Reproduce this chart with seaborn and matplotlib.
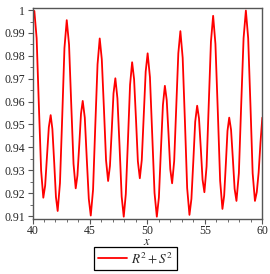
import matplotlib
matplotlib.use("Agg")
import matplotlib.pyplot as plt
from matplotlib.ticker import MultipleLocator, FuncFormatter
import seaborn as sns

# values (extrema plus flank points)
x_vals = [
    40.0, 40.08, 40.16, 40.36, 40.55, 40.75, 40.94,
    41.10, 41.26, 41.42, 41.58, 41.73, 41.89, 42.04, 42.19,
    42.39, 42.59, 42.78, 42.98, 43.18, 43.37, 43.57, 43.76,
    43.91, 44.07, 44.22, 44.37, 44.55, 44.72, 44.90, 45.07,
    45.27, 45.46, 45.66, 45.85, 46.03, 46.22, 46.40, 46.58,
    46.74, 46.90, 47.05, 47.21, 47.39, 47.58, 47.76, 47.94,
    48.12, 48.31, 48.49, 48.67, 48.84, 49.01, 49.17, 49.34,
    49.51, 49.68, 49.85, 50.02, 50.22, 50.42, 50.62, 50.82,
    51.00, 51.17, 51.35, 51.52, 51.68, 51.84, 51.99, 52.15,
    52.33, 52.51, 52.69, 52.87, 53.07, 53.27, 53.46, 53.66,
    53.83, 54.00, 54.16, 54.33, 54.49, 54.65, 54.80, 54.96,
    55.15, 55.34, 55.53, 55.72, 55.92, 56.13, 56.33, 56.53,
    56.68, 56.83, 56.97, 57.12, 57.28, 57.44, 57.59, 57.75,
    57.96, 58.16, 58.37, 58.57, 58.77, 58.97, 59.16, 59.36,
    59.52, 59.68, 59.84, 60.0,
]
rs_vals = [
    0.9978, 0.9991, 0.9996, 0.9877, 0.9588, 0.9299, 0.9180,
    0.9233, 0.9361, 0.9488, 0.9541, 0.9480, 0.9332, 0.9183, 0.9122,
    0.9244, 0.9539, 0.9834, 0.9956, 0.9849, 0.9589, 0.9328, 0.9221,
    0.9277, 0.9412, 0.9547, 0.9603, 0.9530, 0.9353, 0.9175, 0.9102,
    0.9215, 0.9489, 0.9763, 0.9876, 0.9785, 0.9565, 0.9344, 0.9253,
    0.9319, 0.9478, 0.9636, 0.9702, 0.9614, 0.9400, 0.9185, 0.9097,
    0.9196, 0.9435, 0.9673, 0.9772, 0.9698, 0.9519, 0.9339, 0.9265,
    0.9345, 0.9538, 0.9731, 0.9811, 0.9707, 0.9454, 0.9201, 0.9097,
    0.9181, 0.9383, 0.9585, 0.9669, 0.9607, 0.9456, 0.9305, 0.9243,
    0.9340, 0.9576, 0.9811, 0.9908, 0.9791, 0.9507, 0.9222, 0.9105,
    0.9175, 0.9344, 0.9512, 0.9582, 0.9527, 0.9393, 0.9259, 0.9204,
    0.9317, 0.9590, 0.9862, 0.9975, 0.9852, 0.9553, 0.9254, 0.9131,
    0.9189, 0.9331, 0.9472, 0.9530, 0.9477, 0.9348, 0.9219, 0.9166,
    0.9287, 0.9582, 0.9877, 0.9998, 0.9877, 0.9582, 0.9287, 0.9166,
    0.9205, 0.9290, 0.9420, 0.9530,
]
series_label = r"$R^2+S^2$"

sns.set_style("ticks")
plt.rcParams["font.family"] = ["Liberation Serif", "DejaVu Serif"]
plt.rcParams["mathtext.fontset"] = "stix"

fig = plt.figure(figsize=(2.7, 2.74), dpi=100)
ax = fig.add_axes([0.1204, 0.2007, 0.8511, 0.7701])

sns.lineplot(x=x_vals, y=rs_vals, color="red", linewidth=1.3,
             label=series_label, ax=ax, legend=False)

ax.set_xlim(40, 60)
ax.set_ylim(0.9087, 1.0009)
ax.xaxis.set_major_locator(MultipleLocator(5))
ax.xaxis.set_minor_locator(MultipleLocator(1))
ax.yaxis.set_major_locator(MultipleLocator(0.01))
ax.yaxis.set_minor_locator(MultipleLocator(0.005))
ax.yaxis.set_major_formatter(FuncFormatter(lambda v, p: f"{v:g}"))

ax.tick_params(which="major", length=3.5, width=0.8, color="#555555",
               labelsize=8.5, pad=2)
ax.tick_params(axis="x", which="major", pad=1)
ax.tick_params(which="minor", length=2, width=0.6, color="#555555")
for s in ax.spines.values():
    s.set_color("#555555")
    s.set_linewidth(1.0)

ax.set_xlabel("$x$", fontsize=9, labelpad=-1)
ax.set_ylabel("")

handles, labels = ax.get_legend_handles_labels()
fig.legend(handles, labels, loc="center", bbox_to_anchor=(0.503, 0.057),
           fontsize=9.5, frameon=True, fancybox=False, edgecolor="black",
           framealpha=1, handlelength=2.2, borderpad=0.3,
           handletextpad=0.3)
leg = fig.legends[0]
leg.get_frame().set_linewidth(0.9)

fig.savefig("out.png", dpi=100)
